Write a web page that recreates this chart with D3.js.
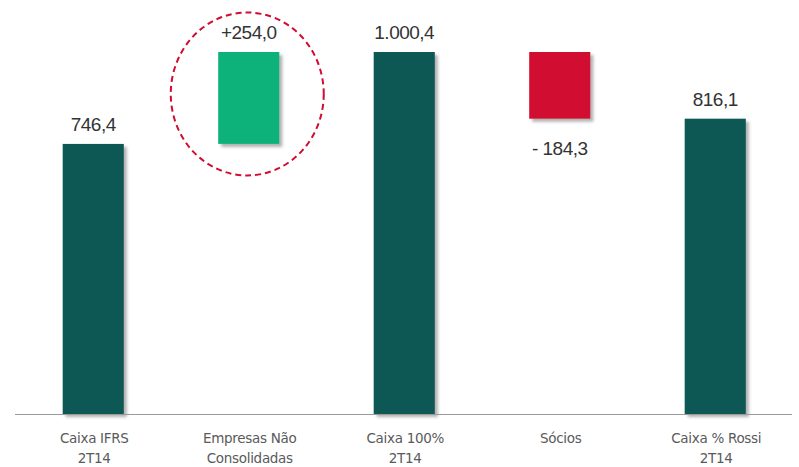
<!DOCTYPE html>
<html>
<head>
<meta charset="utf-8">
<script src="https://cdn.jsdelivr.net/npm/d3@7"></script>
<style>
  html, body { margin: 0; padding: 0; background: #ffffff; }
  svg { display: block; }
</style>
</head>
<body>
<svg id="chart" width="799" height="467"></svg>
<script>
// Cash bridge (R$ milhões): IFRS cash -> 100% cash -> Rossi share
const categories = [
  ["Caixa IFRS", "2T14"],
  ["Empresas Não", "Consolidadas"],
  ["Caixa 100%", "2T14"],
  ["Sócios"],
  ["Caixa % Rossi", "2T14"]
];
const values = [746.4, 254.0, 1000.4, -184.3, 816.1];
const kinds = ["total", "delta", "total", "delta", "total"];
const highlighted = 1; // step circled for emphasis

const W = 799, H = 467;
const baseY = 414;
const topY = 52;

const svg = d3.select("#chart");

const ptBR = d3.formatLocale({ decimal: ",", thousands: ".", grouping: [3], currency: ["R$", ""] });
const fmt = ptBR.format(",.1f");

// Build waterfall segments
let running = 0;
const bars = values.map((v, i) => {
  let y0, y1;
  if (kinds[i] === "total") { y0 = 0; y1 = v; running = v; }
  else { y0 = running; y1 = running + v; running = y1; }
  const label = kinds[i] === "total" ? fmt(v) : (v >= 0 ? "+" + fmt(v) : "- " + fmt(-v));
  return { i, v, y0, y1, kind: kinds[i], label };
});

const x = d3.scaleBand()
  .domain(d3.range(categories.length))
  .range([15.5, 793])
  .paddingInner(0.607)
  .paddingOuter(0.3035);

const y = d3.scaleLinear()
  .domain([0, d3.max(values)])
  .range([baseY, topY]);

const color = d => d.kind === "total" ? "#0a5954" : (d.v >= 0 ? "#10b27a" : "#d10c30");

const defs = svg.append("defs");
const f = defs.append("filter").attr("id", "shadow")
  .attr("x", "-20%").attr("y", "-20%").attr("width", "150%").attr("height", "150%");
f.append("feDropShadow")
  .attr("dx", 3).attr("dy", 3).attr("stdDeviation", 1.8)
  .attr("flood-color", "#555").attr("flood-opacity", 0.45);

// Bars
svg.append("g").selectAll("rect")
  .data(bars)
  .join("rect")
  .attr("x", d => x(d.i))
  .attr("width", x.bandwidth())
  .attr("y", d => y(Math.max(d.y0, d.y1)))
  .attr("height", d => Math.abs(y(d.y0) - y(d.y1)))
  .attr("fill", color)
  .attr("filter", "url(#shadow)");

// Baseline
svg.append("line")
  .attr("x1", 15).attr("x2", 792)
  .attr("y1", baseY + 0.5).attr("y2", baseY + 0.5)
  .attr("stroke", "#9a9a9a").attr("stroke-width", 1.2);

// Value labels
svg.append("g").selectAll("text")
  .data(bars)
  .join("text")
  .attr("x", d => x(d.i) + x.bandwidth() / 2)
  .attr("y", d => d.v >= 0 ? y(Math.max(d.y0, d.y1)) - 13 : y(Math.min(d.y0, d.y1)) + 36)
  .attr("text-anchor", "middle")
  .attr("font-family", "'Liberation Sans', Arial, sans-serif")
  .attr("font-size", 19)
  .attr("letter-spacing", -0.5)
  .attr("fill", "#333")
  .text(d => d.label);

// Category labels
const cat = svg.append("g").selectAll("text")
  .data(categories)
  .join("text")
  .attr("x", (d, i) => x(i) + x.bandwidth() / 2 + 1)
  .attr("y", 443)
  .attr("text-anchor", "middle")
  .attr("font-family", "'DejaVu Sans', Tahoma, sans-serif")
  .attr("font-size", 13.5)
  .attr("letter-spacing", -0.3)
  .attr("fill", "#5a5a5a");
cat.selectAll("tspan")
  .data(d => d)
  .join("tspan")
  .attr("x", function () { return d3.select(this.parentNode).attr("x"); })
  .attr("dy", (d, j) => j === 0 ? 0 : 19.5)
  .text(d => d);

// Dashed emphasis ellipse around the non-consolidated step
const hb = bars[highlighted];
svg.append("ellipse")
  .attr("cx", x(highlighted) + x.bandwidth() / 2 - 1.5)
  .attr("cy", (y(hb.y1) + y(hb.y0)) / 2 - 4)
  .attr("rx", 76.5)
  .attr("ry", 81.5)
  .attr("fill", "none")
  .attr("stroke", "#d10c30")
  .attr("stroke-width", 2)
  .attr("stroke-dasharray", "6,4");
</script>
</body>
</html>
